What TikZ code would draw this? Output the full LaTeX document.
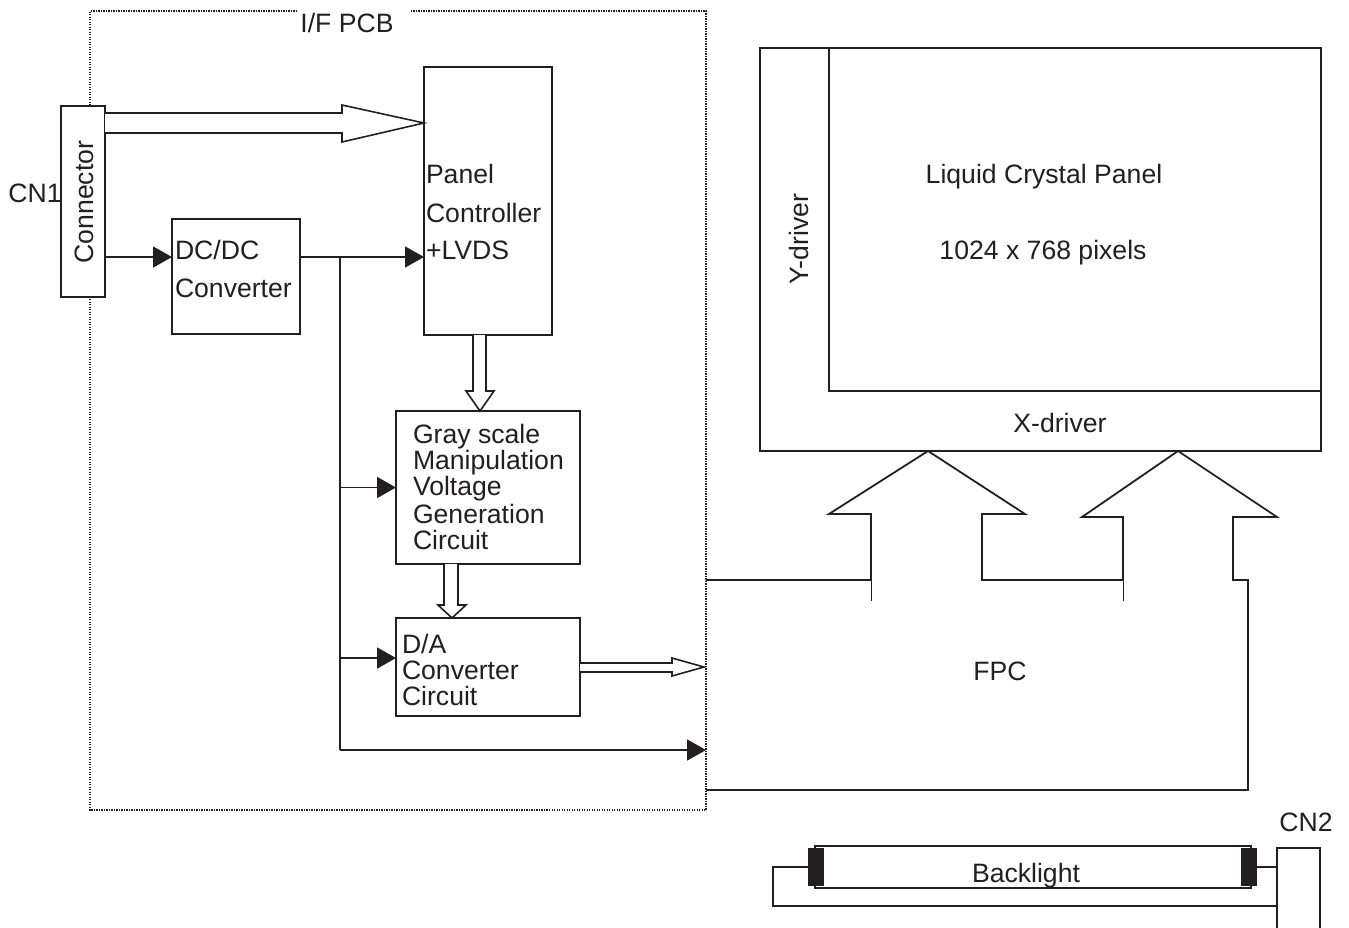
\documentclass[tikz,border=0pt]{standalone}
\usepackage{fontspec}
\setmainfont{Liberation Sans}
\usetikzlibrary{arrows.meta,calc}
\definecolor{ink}{HTML}{231F20}
\begin{document}
\begin{tikzpicture}[x=1pt,y=-1pt,color=ink,
  every node/.style={inner sep=0pt, outer sep=0pt, font=\fontsize{26.6}{30}\selectfont},
  box/.style={draw, line width=1.8pt, fill=white, anchor=north west},
  ln/.style={line width=1.8pt},
  thinln/.style={line width=1pt},
  arr/.style={ln, -{Triangle[length=19pt,width=21pt]}},
  hollow/.style={line width=1.6pt, fill=white},
  framestyle/.style={line width=1.3pt, dash pattern=on 1.2pt off 1.3pt},
  lt/.style={anchor=base west},
  ct/.style={anchor=base},
]
\useasboundingbox (0,0) rectangle (1349,927);

% I/F PCB dotted frame
\draw[framestyle] (297,11) -- (90,11) -- (90,810) -- (706,810) -- (706,11) -- (410,11);
\node[ct] (pcblbl) at (347,32) {I/F PCB};

% boxes
\node[box, minimum width=44, minimum height=191] (cn) at (61,106) {};
\node[box, minimum width=128, minimum height=268] (pc) at (424,67) {};
\node[box, minimum width=128, minimum height=115] (dc) at (172,219) {};
\node[box, minimum width=184, minimum height=153] (gs) at (396,411) {};
\node[box, minimum width=184, minimum height=98] (da) at (396,618) {};

% texts in boxes
\node[ct] (cn1) at (35,202) {CN1};
\node[rotate=90, anchor=base] (cntxt) at (93,202) {Connector};
\node[lt] (pc1) at (426,183) {Panel};
\node[lt] (pc2) at (426,222) {Controller};
\node[lt] (pc3) at (426,259) {+LVDS};
\node[lt] (dc1) at (175,259) {DC/DC};
\node[lt] (dc2) at (175,297) {Converter};
\node[lt] (gs1) at (413,443) {Gray scale};
\node[lt] (gs2) at (413,469) {Manipulation};
\node[lt] (gs3) at (413,495) {Voltage};
\node[lt] (gs4) at (413,523) {Generation};
\node[lt] (gs5) at (413,549) {Circuit};
\node[lt] (da1) at (402,653) {D/A};
\node[lt] (da2) at (402,679) {Converter};
\node[lt] (da3) at (402,705) {Circuit};

% thin connectors
\coordinate (j1) at (340,257);
\coordinate (j2) at (340,750);
\coordinate (j3) at (340,658);
\coordinate (pr) at (706,750);
\draw[arr] (cn.east |- j1) -- (dc.west |- j1);
\draw[arr] (dc.east |- j1) -- (pc.west |- j1);
\draw[ln] (j1) -- (j2);
\draw[arr] (j1 |- gs.west) -- (gs.west);
\draw[arr] (j3) -- (da.west |- j3);
\draw[arr] (j2) -- (pr);

% hollow (bus) arrows
\coordinate (t1) at ($(pc.north west)+(0,56)$);
\draw[hollow] (105,113) -- (342,113) -- (342,105) -- (t1) -- (342,142) -- (342,133) -- (105,133);
\draw[hollow] (473,335) -- (473,391) -- (466,391) -- (480,411) -- (494,391) -- (486,391) -- (486,335);
\draw[hollow] (444,564) -- (444,605) -- (438,605) -- (452,618) -- (466,605) -- (458,605) -- (458,564);
\draw[hollow] (580,663) -- (672,663) -- (672,658) -- (704,667) -- (672,676) -- (672,672) -- (580,672);

% LCD panel
\node[box, minimum width=561, minimum height=403] (lcd) at (760,48) {};
\node[draw, line width=1.8pt, anchor=north west, minimum width=492, minimum height=343] (lcp) at (829,48) {};
\node[rotate=90, anchor=base] (yd) at (808,239) {Y-driver};
\node[ct] (lcpt) at (1044,183) {Liquid Crystal Panel};
\node[ct] (pix) at (1043,259) {1024 x 768 pixels};
\node[ct] (xd) at (1060,432) {X-driver};

% FPC outline
\draw[ln] (706,580) -- (871,580) -- (871,514) -- (829,514) -- (928,451) -- (1025,514) -- (982,514) -- (982,580) -- (1123,580) -- (1123,517) -- (1082,517) -- (1178,451) -- (1277,517) -- (1233,517) -- (1233,580) -- (1248,580) -- (1248,790) -- (706,790);
\draw[thinln] (871,580) -- (871,601);
\draw[thinln] (1123,580) -- (1123,601);
\node[ct] (fpc) at (1000,680) {FPC};

% Backlight
\node[draw, line width=1.6pt, anchor=north west, minimum width=436, minimum height=42] (tube) at (815,846) {};
\node[fill=ink, anchor=north west, minimum width=16, minimum height=38] (capl) at (808,848) {};
\node[fill=ink, anchor=north west, minimum width=16, minimum height=38] (capr) at (1241,848) {};
\node[box, minimum width=43, minimum height=110] (cn2) at (1277,848) {};
\coordinate (bw) at (773,906);
\draw[ln] (capl.west) -| (bw) -- (cn2.west |- bw);
\draw[ln] (capr.east) -- (cn2.west |- capr.east);
\node[ct] (blt) at (1026,882) {Backlight};
\node[ct] (cn2t) at (1306,831) {CN2};
\end{tikzpicture}
\end{document}
